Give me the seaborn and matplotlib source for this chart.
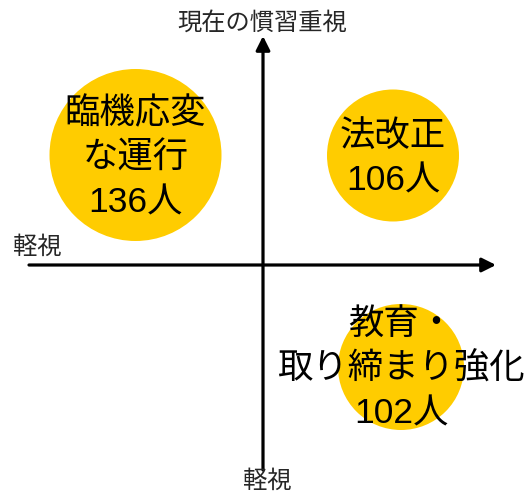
import matplotlib
matplotlib.use("Agg")
import matplotlib.pyplot as plt
import seaborn as sns
import pandas as pd

# ---- data ----
categories = ["臨機応変\nな運行", "法改正", "教育・\n取り締まり強化"]
counts = [136, 106, 102]
unit = "人"
axis_top = "現在の慣習重視"
axis_bottom = "軽視"
axis_left = "軽視"

sns.set_theme(style="white")
plt.rcParams["font.family"] = ["Liberation Sans", "Noto Sans CJK JP", "DejaVu Sans"]

W, H = 529, 498
fig = plt.figure(figsize=(W / 100, H / 100), dpi=100)
ax = fig.add_axes([0, 0, 1, 1])
ax.set_xlim(0, W)
ax.set_ylim(H, 0)
ax.axis("off")

# layout (pixel space) for each bubble: centre x, centre y, radius
layout = [(135.5, 155, 86), (393, 155.5, 66), (401, 367, 63)]
text_y = [158, 159, 369]

df = pd.DataFrame({
    "label": categories,
    "count": counts,
    "x": [l[0] for l in layout],
    "y": [l[1] for l in layout],
})
px2pt = 72 / 100
sizes = {c: (2 * l[2] * px2pt) ** 2 for c, l in zip(categories, layout)}
sns.scatterplot(data=df, x="x", y="y", size="label", sizes=sizes,
                color="#FFCC00", linewidth=0, legend=False, ax=ax, zorder=1)
ax.set_xlabel("")
ax.set_ylabel("")

for (c, n, ty), (cx, cy, r) in zip(zip(categories, counts, text_y), layout):
    ax.text(cx, ty, f"{c}\n{n}{unit}", ha="center", va="center",
            fontsize=25.5, linespacing=1.45, color="black", zorder=3)

# axes arrows
arrow = dict(arrowstyle="-|>,head_length=0.7,head_width=0.35", lw=2.3,
             color="black", shrinkA=0, shrinkB=0)
ax.annotate("", xy=(496, 265), xytext=(29, 265), arrowprops=arrow, zorder=2)
ax.annotate("", xy=(263, 36), xytext=(263, 470), arrowprops=arrow, zorder=2)

ax.text(262, 23, axis_top, ha="center", va="center", fontsize=17.5)
ax.text(267, 482, axis_bottom, ha="center", va="center", fontsize=17.5)
ax.text(37, 248, axis_left, ha="center", va="center", fontsize=17.5)

fig.savefig("out.png", dpi=100)
